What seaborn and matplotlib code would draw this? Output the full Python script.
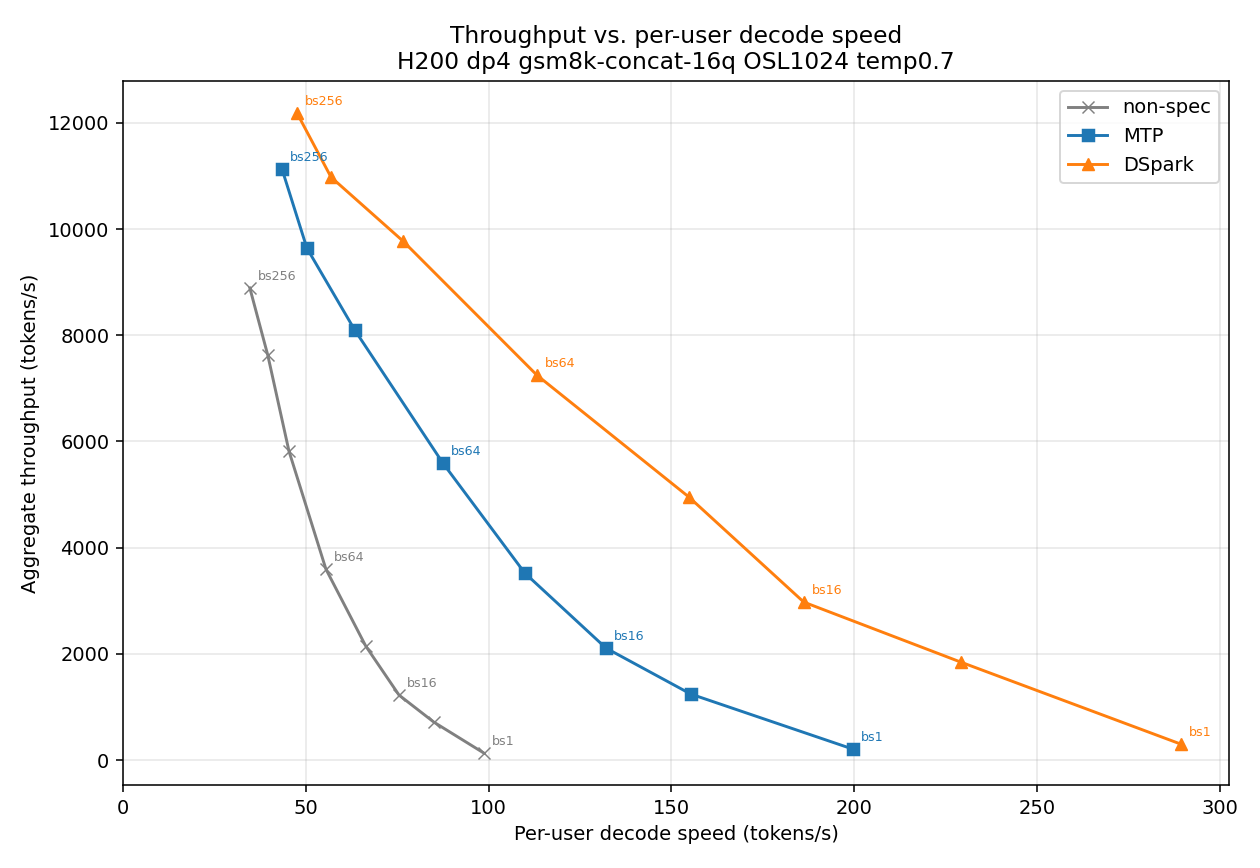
import numpy as np, pandas as pd, matplotlib
matplotlib.use('Agg')
import matplotlib.pyplot as plt
import seaborn as sns

### data ###
nonspec_x = [34.7, 39.6, 45.4, 55.5, 66.4, 75.5, 85.0, 98.7]
nonspec_y = [8890, 7627, 5819, 3597, 2147, 1224, 716, 132]

mtp_x = [43.5, 50.3, 63.4, 87.5, 109.9, 132.1, 155.3, 199.6]
mtp_y = [11130, 9642, 8098, 5593, 3522, 2109, 1243, 207]

dspark_x = [47.6, 56.9, 76.6, 113.2, 154.8, 186.2, 229.1, 289.3]
dspark_y = [12185, 10979, 9774, 7250, 4953, 2975, 1846, 301]

# which points carry a batch-size label (index -> text)
bs_labels = {0: 'bs256', 3: 'bs64', 5: 'bs16', 7: 'bs1'}

series = [
    ('non-spec', nonspec_x, nonspec_y, 'gray', 'x'),
    ('MTP', mtp_x, mtp_y, '#1f77b4', 's'),
    ('DSpark', dspark_x, dspark_y, '#ff7f0e', '^'),
]

fig, ax = plt.subplots(figsize=(9, 6.2), dpi=140)

for name, xs, ys, col, mk in series:
    sns.lineplot(x=xs, y=ys, ax=ax, color=col, marker=mk, markersize=6,
                 markeredgecolor=col, linewidth=1.5, label=name, sort=False)
    for i, txt in bs_labels.items():
        ax.annotate(txt, (xs[i], ys[i]), xytext=(4, 4), textcoords='offset points',
                    fontsize=6.5, color=col)

ax.set_xlim(0, 302.5)
ax.set_ylim(-470, 12790)
ax.grid(True, alpha=0.3)
ax.set_xlabel('Per-user decode speed (tokens/s)')
ax.set_ylabel('Aggregate throughput (tokens/s)')
ax.set_title('Throughput vs. per-user decode speed\nH200 dp4 gsm8k-concat-16q OSL1024 temp0.7')
ax.legend(loc='upper right')

plt.subplots_adjust(left=0.0976, right=0.9754, top=0.9067, bottom=0.0956)
plt.savefig('out.png', dpi=140)
